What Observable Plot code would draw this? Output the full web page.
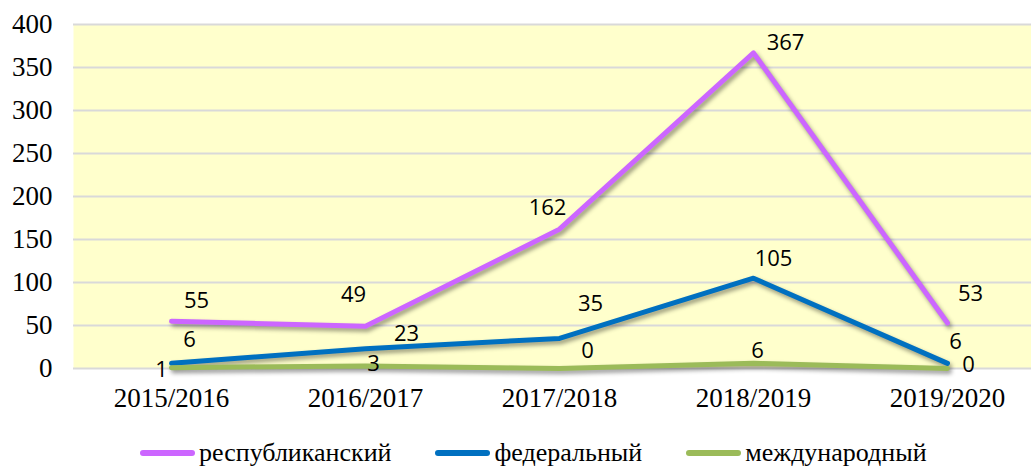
<!DOCTYPE html>
<html><head><meta charset="utf-8">
<script src="https://cdn.jsdelivr.net/npm/d3@7"></script>
<script src="https://cdn.jsdelivr.net/npm/@observablehq/plot@0.6"></script>
<style>
body{margin:0;background:#fff;}
#chart svg g[aria-label="line"] path{filter:drop-shadow(2px 3px 2px rgba(0,0,0,0.4));}
#legend{display:flex;align-items:center;margin-left:140px;margin-top:8px;font-family:"Liberation Serif",serif;font-size:26px;color:#000;}
#legend .item{display:flex;align-items:center;margin-right:44px;}
#legend .sw{width:55px;height:6px;border-radius:3px;margin-right:4px;}
</style>
</head><body>
<div id="chart"></div>
<div id="legend"></div>
<script>
const categories = ["2015/2016","2016/2017","2017/2018","2018/2019","2019/2020"];
const seriesNames = ["республиканский","федеральный","международный"];
const republican = [55,49,162,367,53];
const federal = [6,23,35,105,6];
const international = [1,3,0,6,0];
const yTicks = [0,50,100,150,200,250,300,350,400];
const colors = ["#CC66FF","#0070C0","#9BBB59"];
// label nudges (pixels) per series/point, as placed in the original
const labelNudges = [
  [[25,-20],[-12,-31],[-12,-21],[32,-10],[23,-29]],
  [[18,-23],[41,-15],[31,-34],[20,-19],[8,-21]],
  [[-10,2],[8,-2],[28,-18],[4,-12],[21,-4]]
];

const seriesValues = [republican, federal, international];
const rows = [];
seriesValues.forEach((vals, s) => vals.forEach((v, i) => rows.push({cat: categories[i], series: seriesNames[s], value: v, s, i})));

const labelMarks = rows.map(r => Plot.text([r], {
  x: "cat", y: "value", text: d => String(d.value),
  dx: labelNudges[r.s][r.i][0], dy: labelNudges[r.s][r.i][1],
  fontFamily: "Open Sans", fontSize: 22, fill: "#000"
}));

const lineMarks = seriesNames.map((name, s) => Plot.lineY(rows.filter(r => r.s === s), {
  x: "cat", y: "value", stroke: colors[s], strokeWidth: 5,
  strokeLinecap: "round", strokeLinejoin: "round"
}));

const chart = Plot.plot({
  width: 1031, height: 430,
  marginLeft: 73, marginRight: 0, marginTop: 24, marginBottom: 62,
  style: {fontFamily: "Liberation Serif", fontSize: "27px", color: "#000", background: "#fff"},
  x: {type: "point", domain: categories, range: [170, 947], padding: 0, label: null},
  y: {domain: [0, 400], label: null},
  marks: [
    Plot.frame({fill: "#FFFFCC", stroke: null}),
    Plot.gridY(yTicks, {stroke: "#D9D9D9", strokeOpacity: 1, strokeWidth: 2}),
    Plot.axisY(yTicks, {tickSize: 0, tickPadding: 21, label: null}),
    Plot.axisX({tickSize: 0, tickPadding: 19, label: null}),
    ...lineMarks,
    ...labelMarks
  ]
});
document.getElementById("chart").appendChild(chart);

const legend = document.getElementById("legend");
seriesNames.forEach((name, s) => {
  const it = document.createElement("div");
  it.className = "item";
  const sw = document.createElement("div");
  sw.className = "sw";
  sw.style.background = colors[s];
  const t = document.createElement("span");
  t.textContent = name;
  it.appendChild(sw); it.appendChild(t);
  legend.appendChild(it);
});
</script>
</body></html>
